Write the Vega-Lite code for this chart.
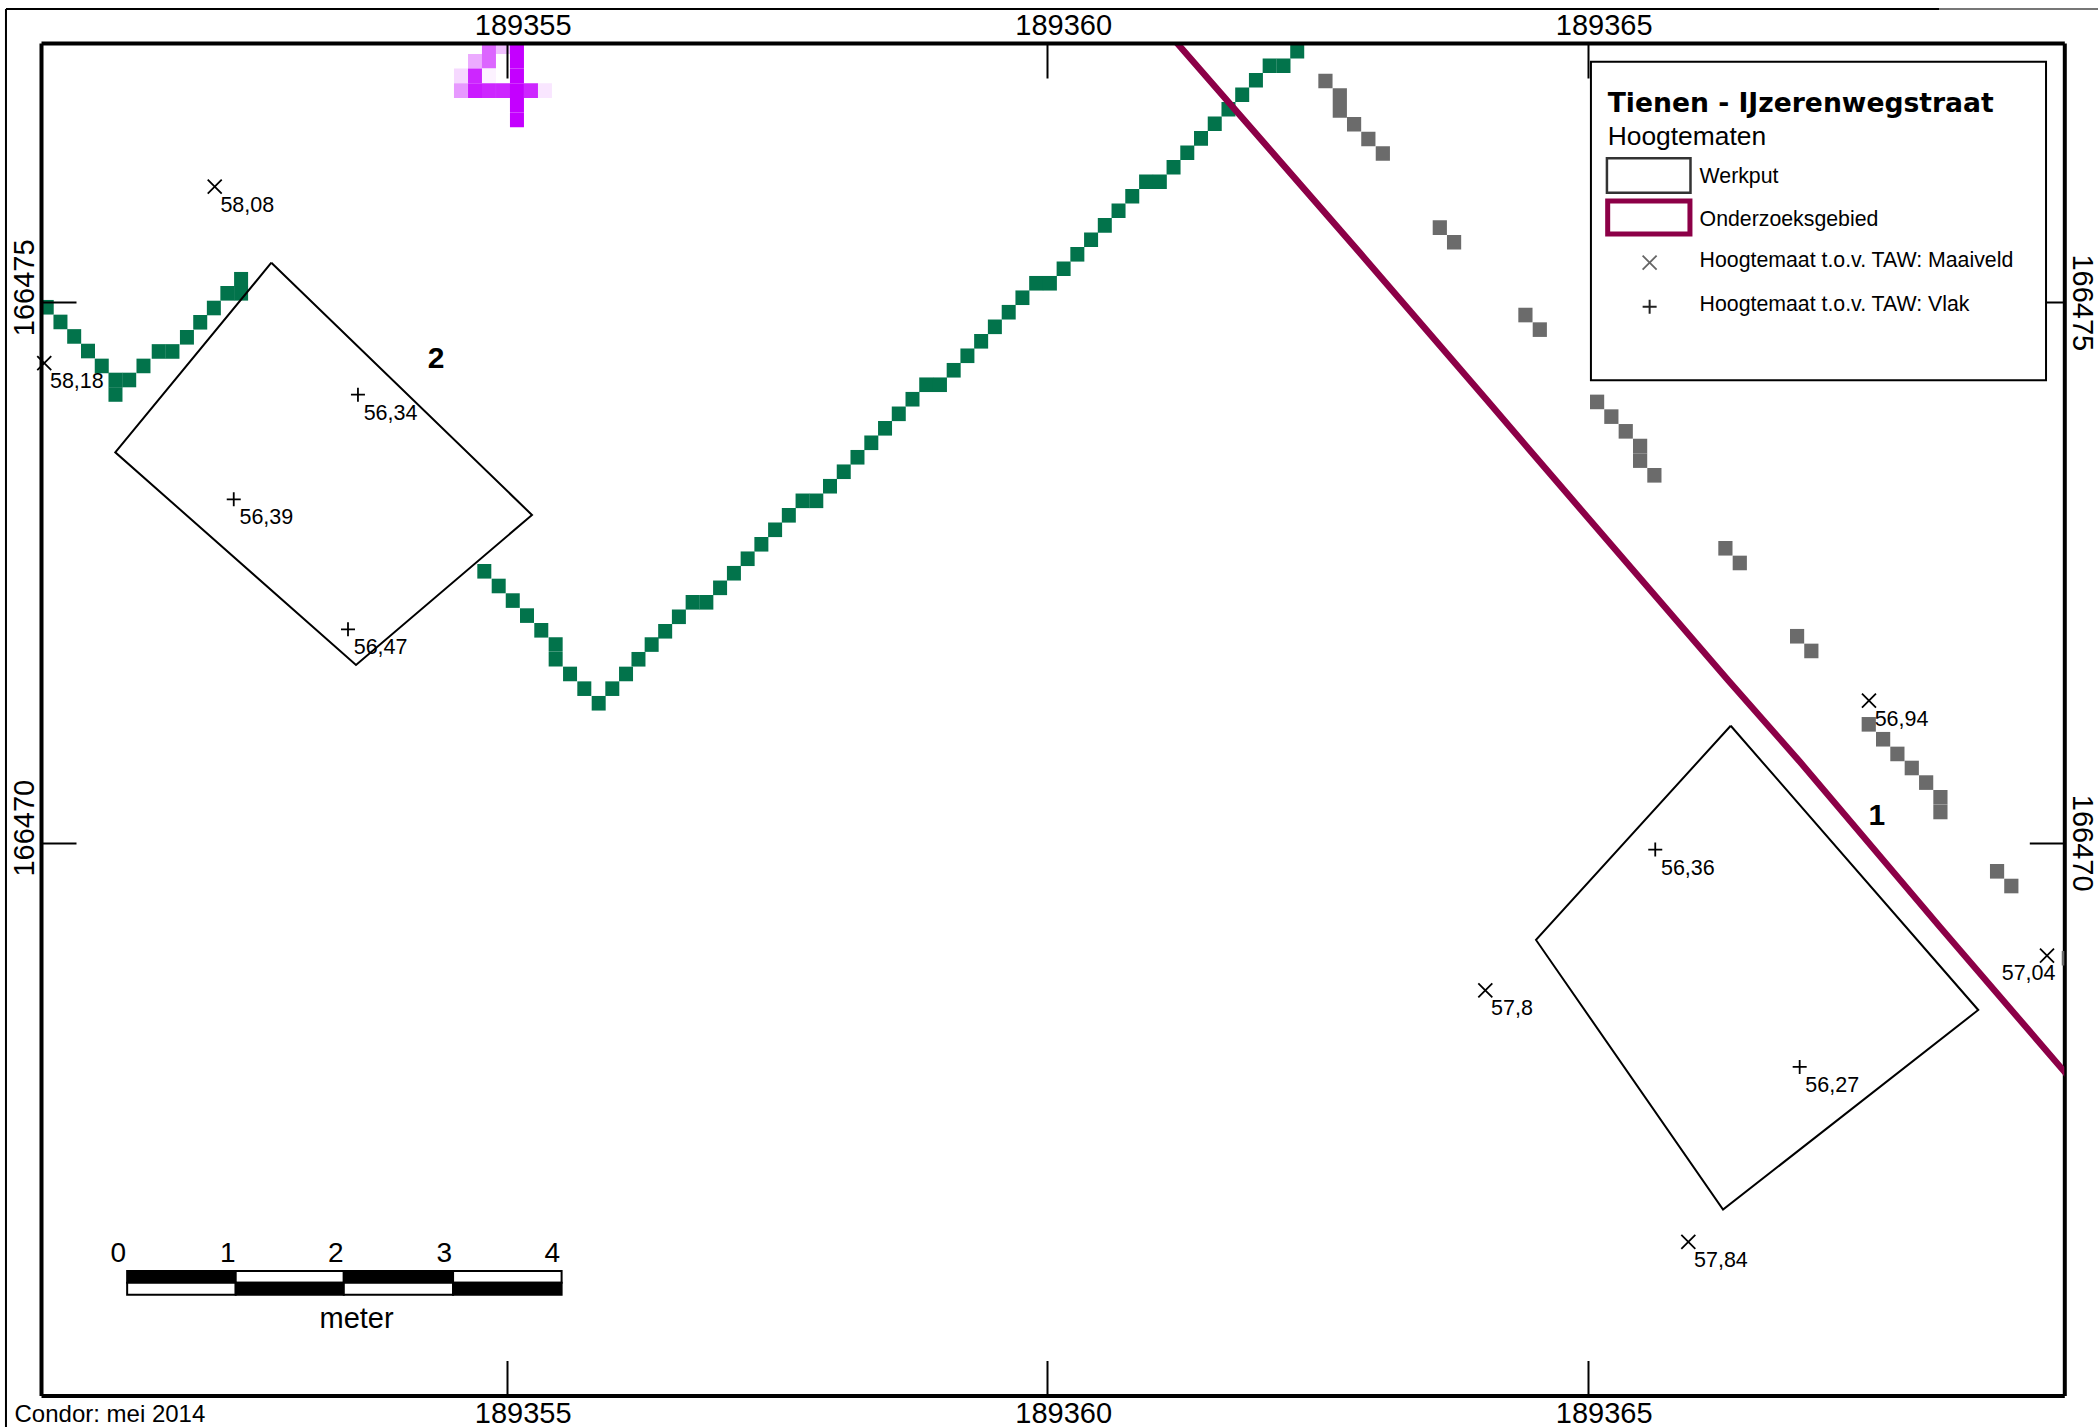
{"$schema":"https://vega.github.io/schema/vega-lite/v6.json","width":2023.3,"height":1352.5,"autosize":{"type":"none"},"padding":{"left":41,"top":43,"right":33.7,"bottom":31.5},"background":"#ffffff","config":{"view":{"stroke":null},"text":{"font":"Liberation Sans"},"axis":{"labelFont":"Liberation Sans","labelColor":"#000000","labelFontSize":29,"tickColor":"#000000","tickWidth":2,"domainColor":"#000000","domainWidth":4,"grid":false,"title":null,"format":"d","labelOverlap":false,"labelBound":false,"labelFlush":false}},
"datasets":{
"green":[{"x":189350.745,"y":166474.954},{"x":189350.872,"y":166474.818},{"x":189350.999,"y":166474.684},{"x":189351.127,"y":166474.549},{"x":189351.254,"y":166474.411},{"x":189351.381,"y":166474.281},{"x":189351.508,"y":166474.281},{"x":189351.381,"y":166474.147},{"x":189351.64,"y":166474.411},{"x":189351.781,"y":166474.545},{"x":189351.908,"y":166474.545},{"x":189352.042,"y":166474.676},{"x":189352.165,"y":166474.815},{"x":189352.291,"y":166474.947},{"x":189352.416,"y":166475.083},{"x":189352.543,"y":166475.083},{"x":189352.543,"y":166475.213},
{"x":189354.793,"y":166472.511},{"x":189354.926,"y":166472.375},{"x":189355.056,"y":166472.24},{"x":189355.188,"y":166472.101},{"x":189355.32,"y":166471.965},{"x":189355.453,"y":166471.833},{"x":189355.453,"y":166471.697},{"x":189355.586,"y":166471.561},{"x":189355.718,"y":166471.425},{"x":189355.851,"y":166471.29},{"x":189355.977,"y":166471.425},{"x":189356.104,"y":166471.561},{"x":189356.219,"y":166471.697},{"x":189356.341,"y":166471.833},{"x":189356.466,"y":166471.956},{"x":189356.593,"y":166472.09},{"x":189356.72,"y":166472.224},{"x":189356.847,"y":166472.224},{"x":189356.974,"y":166472.358},{"x":189357.102,"y":166472.493},{"x":189357.229,"y":166472.627},{"x":189357.356,"y":166472.761},{"x":189357.483,"y":166472.895},{"x":189357.61,"y":166473.029},{"x":189357.737,"y":166473.163},{"x":189357.864,"y":166473.163},{"x":189357.991,"y":166473.298},{"x":189358.118,"y":166473.432},{"x":189358.245,"y":166473.566},{"x":189358.373,"y":166473.7},{"x":189358.5,"y":166473.834},{"x":189358.627,"y":166473.968},{"x":189358.754,"y":166474.103},{"x":189358.881,"y":166474.237},{"x":189359.008,"y":166474.237},{"x":189359.135,"y":166474.371},{"x":189359.262,"y":166474.505},{"x":189359.389,"y":166474.639},{"x":189359.516,"y":166474.773},{"x":189359.644,"y":166474.908},{"x":189359.771,"y":166475.042},{"x":189359.898,"y":166475.176},{"x":189360.025,"y":166475.176},{"x":189360.152,"y":166475.31},{"x":189360.279,"y":166475.444},{"x":189360.406,"y":166475.578},{"x":189360.533,"y":166475.712},{"x":189360.66,"y":166475.847},{"x":189360.787,"y":166475.981},{"x":189360.915,"y":166476.115},{"x":189361.042,"y":166476.115},{"x":189361.169,"y":166476.249},{"x":189361.296,"y":166476.383},{"x":189361.423,"y":166476.517},{"x":189361.55,"y":166476.652},{"x":189361.677,"y":166476.786},{"x":189361.804,"y":166476.92},{"x":189361.931,"y":166477.054},{"x":189362.058,"y":166477.188},{"x":189362.186,"y":166477.188},{"x":189362.313,"y":166477.322}],
"gray":[{"x":189362.574,"y":166477.048},{"x":189362.707,"y":166476.912},{"x":189362.707,"y":166476.776},{"x":189362.839,"y":166476.647},{"x":189362.971,"y":166476.511},{"x":189363.105,"y":166476.376},{"x":189363.632,"y":166475.691},{"x":189363.764,"y":166475.555},{"x":189364.424,"y":166474.882},{"x":189364.557,"y":166474.747},{"x":189365.087,"y":166474.078},{"x":189365.219,"y":166473.942},{"x":189365.352,"y":166473.806},{"x":189365.485,"y":166473.67},{"x":189365.485,"y":166473.535},{"x":189365.617,"y":166473.399},{"x":189366.274,"y":166472.724},{"x":189366.407,"y":166472.588},{"x":189366.937,"y":166471.91},{"x":189367.069,"y":166471.774},{"x":189367.6,"y":166471.095},{"x":189367.733,"y":166470.957},{"x":189367.865,"y":166470.821},{"x":189367.998,"y":166470.691},{"x":189368.131,"y":166470.556},{"x":189368.263,"y":166470.42},{"x":189368.263,"y":166470.284},{"x":189368.787,"y":166469.735},{"x":189368.919,"y":166469.599},{"x":189369.451,"y":166468.93}],
"magenta":[{"x":189354.836,"y":166477.365,"v":0.6},{"x":189354.966,"y":166477.365,"v":0.25},{"x":189355.095,"y":166477.365,"v":1},{"x":189354.707,"y":166477.23,"v":0.33},{"x":189354.836,"y":166477.23,"v":0.6},{"x":189355.095,"y":166477.23,"v":1},{"x":189354.577,"y":166477.094,"v":0.15},{"x":189354.707,"y":166477.094,"v":0.85},{"x":189354.836,"y":166477.094,"v":0.05},{"x":189355.095,"y":166477.094,"v":1},{"x":189354.577,"y":166476.958,"v":0.4},{"x":189354.707,"y":166476.958,"v":0.9},{"x":189354.836,"y":166476.958,"v":0.85},{"x":189354.966,"y":166476.958,"v":0.85},{"x":189355.095,"y":166476.958,"v":1},{"x":189355.225,"y":166476.958,"v":0.85},{"x":189355.354,"y":166476.958,"v":0.1},{"x":189355.095,"y":166476.823,"v":1},{"x":189355.095,"y":166476.687,"v":1}],
"pits":[{"pit":"2","i":0,"x":189352.823,"y":166475.366},{"pit":"2","i":1,"x":189355.234,"y":166473.032},{"pit":"2","i":2,"x":189353.606,"y":166471.644},{"pit":"2","i":3,"x":189351.379,"y":166473.612},{"pit":"2","i":4,"x":189352.823,"y":166475.366},{"pit":"1","i":0,"x":189366.323,"y":166471.082},{"pit":"1","i":1,"x":189368.613,"y":166468.452},{"pit":"1","i":2,"x":189366.252,"y":166466.605},{"pit":"1","i":3,"x":189364.522,"y":166469.1},{"pit":"1","i":4,"x":189366.323,"y":166471.082}],
"boundary":[{"i":0,"x":189361.136,"y":166477.473},{"i":1,"x":189362.894,"y":166475.456},{"i":2,"x":189364.066,"y":166474.096},{"i":3,"x":189364.836,"y":166473.199},{"i":4,"x":189366.298,"y":166471.505},{"i":5,"x":189366.964,"y":166470.747},{"i":6,"x":189368.259,"y":166469.22},{"i":7,"x":189369.508,"y":166467.767}],
"heights":[{"x":189352.299,"y":166476.07,"kind":"Maaiveld","label":"58,08"},{"x":189350.722,"y":166474.436,"kind":"Maaiveld","label":"58,18"},{"x":189353.624,"y":166474.145,"kind":"Vlak","label":"56,34"},{"x":189352.475,"y":166473.177,"kind":"Vlak","label":"56,39"},{"x":189353.532,"y":166471.974,"kind":"Vlak","label":"56,47"},{"x":189365.625,"y":166469.936,"kind":"Vlak","label":"56,36"},{"x":189366.961,"y":166467.925,"kind":"Vlak","label":"56,27"},{"x":189364.053,"y":166468.633,"kind":"Maaiveld","label":"57,8"},{"x":189365.931,"y":166466.307,"kind":"Maaiveld","label":"57,84"},{"x":189367.602,"y":166471.314,"kind":"Maaiveld","label":"56,94"},{"x":189369.249,"y":166468.954,"kind":"Maaiveld","label":"57,04"}],
"pitNumbers":[{"x":189354.346,"y":166474.395,"label":"2"},{"x":189367.676,"y":166470.164,"label":"1"}],
"scalebar":[{"x":189351.489,"x2":189352.493,"y":166466.036,"y2":166465.928,"tone":"dark"},{"x":189352.493,"x2":189353.493,"y":166466.036,"y2":166465.928,"tone":"light"},{"x":189353.493,"x2":189354.504,"y":166466.036,"y2":166465.928,"tone":"dark"},{"x":189354.504,"x2":189355.508,"y":166466.036,"y2":166465.928,"tone":"light"},{"x":189351.489,"x2":189352.493,"y":166465.928,"y2":166465.817,"tone":"light"},{"x":189352.493,"x2":189353.493,"y":166465.928,"y2":166465.817,"tone":"dark"},{"x":189353.493,"x2":189354.504,"y":166465.928,"y2":166465.817,"tone":"light"},{"x":189354.504,"x2":189355.508,"y":166465.928,"y2":166465.817,"tone":"dark"}],
"scalelabels":[{"x":189351.407,"y":166466.123,"label":"0"},{"x":189352.419,"y":166466.123,"label":"1"},{"x":189353.418,"y":166466.123,"label":"2"},{"x":189354.422,"y":166466.123,"label":"3"},{"x":189355.421,"y":166466.123,"label":"4"}],
"legendLabels":[{"x":189366.035,"y":166476.107,"label":"Werkput"},{"x":189366.035,"y":166475.706,"label":"Onderzoeksgebied"},{"x":189366.035,"y":166475.324,"label":"Hoogtemaat t.o.v. TAW: Maaiveld"},{"x":189366.035,"y":166474.92,"label":"Hoogtemaat t.o.v. TAW: Vlak"}]
},
"encoding":{"x":{"field":"x","type":"quantitative","scale":{"domain":[189350.692,189369.409],"nice":false,"zero":false},"axis":null},"y":{"field":"y","type":"quantitative","scale":{"domain":[166464.885,166477.399],"nice":false,"zero":false},"axis":null}},
"resolve":{"axis":{"x":"independent","y":"independent"},"scale":{"color":"independent","shape":"independent","fill":"independent"}},
"layer":[
{"data":{"name":"boundary"},"mark":{"type":"rule","opacity":0},"encoding":{"x":{"field":"x","type":"quantitative","axis":{"orient":"top","values":[189355,189360,189365],"tickSize":-35,"labelPadding":38,"labelOffset":16,"zindex":1}},"y":{"field":"y","type":"quantitative","axis":{"orient":"right","values":[166470,166475],"tickSize":-35,"labelPadding":37,"labelAngle":90,"labelAlign":"center","labelBaseline":"bottom","zindex":0}}}},
{"data":{"name":"boundary"},"mark":{"type":"rule","opacity":0},"encoding":{"x":{"field":"x","type":"quantitative","axis":{"orient":"bottom","values":[189355,189360,189365],"tickSize":-35,"labelPadding":39,"labelOffset":16,"zindex":1}},"y":{"field":"y","type":"quantitative","axis":{"orient":"left","values":[166470,166475],"tickSize":-35,"labelPadding":37,"labelAngle":-90,"labelAlign":"center","labelBaseline":"bottom","labelOffset":-15,"zindex":1}}}},
{"data":{"name":"green"},"mark":{"type":"rect","width":14,"height":14.6,"clip":true,"color":"#02734b"}},
{"data":{"name":"gray"},"mark":{"type":"rect","width":14.2,"height":14.6,"clip":true,"color":"#6b6b6b"}},
{"data":{"name":"magenta"},"mark":{"type":"rect","width":14,"height":14.7,"clip":true},"encoding":{"color":{"field":"v","type":"quantitative","scale":{"domain":[0,1],"range":["#ffffff","#c400ff"],"interpolate":"rgb"},"legend":null}}},
{"data":{"name":"pits"},"mark":{"type":"line","color":"#000000","strokeWidth":2,"clip":true},"encoding":{"detail":{"field":"pit"},"order":{"field":"i"}}},
{"data":{"name":"boundary"},"mark":{"type":"line","color":"#8c0047","strokeWidth":6.5,"clip":true},"encoding":{"order":{"field":"i"}}},
{"data":{"name":"heights"},"mark":{"type":"point","filled":false,"size":196,"strokeWidth":1.8,"color":"#000000","opacity":1},"encoding":{"shape":{"field":"kind","type":"nominal","scale":{"domain":["Maaiveld","Vlak"],"range":["M-1,-1L1,1M-1,1L1,-1","M-1,0H1M0,-1V1"]},"legend":null}}},
{"data":{"name":"heights"},"transform":[{"filter":"datum.label !== '57,04'"}],"mark":{"type":"text","fontSize":21.5,"align":"left","baseline":"alphabetic","dx":5.7,"dy":25,"color":"#000000"},"encoding":{"text":{"field":"label"}}},
{"data":{"name":"heights"},"transform":[{"filter":"datum.label === '57,04'"}],"mark":{"type":"text","fontSize":21.5,"align":"left","baseline":"alphabetic","dx":-45.3,"dy":24.3,"color":"#000000"},"encoding":{"text":{"field":"label"}}},
{"data":{"name":"pitNumbers"},"mark":{"type":"text","fontSize":30,"fontWeight":"bold","align":"center","baseline":"alphabetic","color":"#000000"},"encoding":{"text":{"field":"label"}}},
{"data":{"values":[{"x":189365.03,"x2":189369.24,"y":166477.226,"y2":166474.279}]},"mark":{"type":"rect","fill":"#ffffff","stroke":"#000000","strokeWidth":2},"encoding":{"x2":{"field":"x2"},"y2":{"field":"y2"}}},
{"data":{"values":[{"x":189365.178,"x2":189365.951,"y":166476.332,"y2":166476.014}]},"mark":{"type":"rect","fill":"#ffffff","stroke":"#333333","strokeWidth":2.5},"encoding":{"x2":{"field":"x2"},"y2":{"field":"y2"}}},
{"data":{"values":[{"x":189365.185,"x2":189365.946,"y":166475.937,"y2":166475.632}]},"mark":{"type":"rect","fill":"#ffffff","stroke":"#8c0047","strokeWidth":5},"encoding":{"x2":{"field":"x2"},"y2":{"field":"y2"}}},
{"data":{"values":[{"x":189365.573,"y":166475.366}]},"mark":{"type":"point","shape":"M-1,-1L1,1M-1,1L1,-1","filled":false,"size":196,"strokeWidth":1.8,"color":"#666666","opacity":1}},
{"data":{"values":[{"x":189365.573,"y":166474.959}]},"mark":{"type":"point","shape":"M-1,0H1M0,-1V1","filled":false,"size":196,"strokeWidth":2,"color":"#222222","opacity":1}},
{"data":{"values":[{"x":189365.185,"y":166476.764,"label":"Tienen - IJzerenwegstraat"}]},"mark":{"type":"text","font":"DejaVu Sans","fontWeight":"bold","fontSize":26.6,"align":"left","baseline":"alphabetic","color":"#000000"},"encoding":{"text":{"field":"label"}}},
{"data":{"values":[{"x":189365.185,"y":166476.455,"label":"Hoogtematen"}]},"mark":{"type":"text","fontSize":26.4,"align":"left","baseline":"alphabetic","color":"#000000"},"encoding":{"text":{"field":"label"}}},
{"data":{"name":"legendLabels"},"mark":{"type":"text","fontSize":21.3,"align":"left","baseline":"alphabetic","color":"#000000"},"encoding":{"text":{"field":"label"}}},
{"data":{"name":"scalebar"},"mark":{"type":"rect","stroke":"#000000","strokeWidth":2},"encoding":{"x2":{"field":"x2"},"y2":{"field":"y2"},"fill":{"field":"tone","type":"nominal","scale":{"domain":["dark","light"],"range":["#000000","#ffffff"]},"legend":null}}},
{"data":{"name":"scalelabels"},"mark":{"type":"text","fontSize":28,"align":"center","baseline":"alphabetic","color":"#000000"},"encoding":{"text":{"field":"label"}}},
{"data":{"values":[{"x":189353.611,"y":166465.512,"label":"meter"}]},"mark":{"type":"text","fontSize":29,"align":"center","baseline":"alphabetic","color":"#000000"},"encoding":{"text":{"field":"label"}}},
{"data":{"values":[{"x":189350.447,"y":166464.642,"label":"Condor: mei 2014"}]},"mark":{"type":"text","fontSize":24,"align":"left","baseline":"alphabetic","color":"#000000"},"encoding":{"text":{"field":"label"}}},
{"data":{"values":[{"x":189350.368,"x2":189368.25,"y":166477.713}]},"mark":{"type":"rule","color":"#000000","strokeWidth":2},"encoding":{"x2":{"field":"x2"},"y":{"field":"y","type":"quantitative"}}},
{"data":{"values":[{"x":189368.25,"x2":189369.721,"y":166477.713}]},"mark":{"type":"rule","color":"#777777","strokeWidth":2},"encoding":{"x2":{"field":"x2"},"y":{"field":"y","type":"quantitative"}}},
{"data":{"values":[{"x":189350.368,"y":166477.713,"y2":166464.594}]},"mark":{"type":"rule","color":"#000000","strokeWidth":2},"encoding":{"y2":{"field":"y2"}}}
]}
